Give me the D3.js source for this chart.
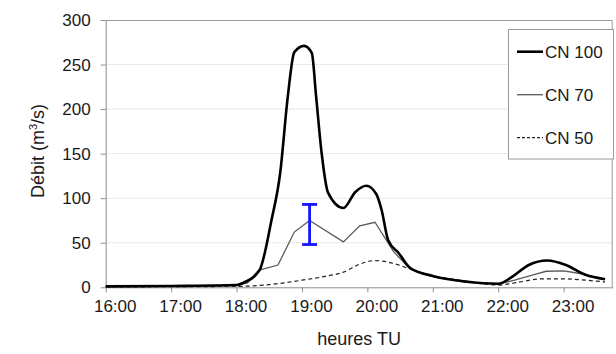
<!DOCTYPE html>
<html>
<head>
<meta charset="utf-8">
<script src="https://cdn.jsdelivr.net/npm/d3@7"></script>
<style>
    body { margin: 0; background: white; }
    text { font-family: "Liberation Sans", Arial, sans-serif; fill: #1a1a1a; }
</style>
</head>
<body>
<div id="chart"></div>
<script>
// hours (TU) and discharge values
const times100  = ["16:00","17:00","18:00","18:06","18:21","18:32","18:40","18:47","18:53","19:02","19:09","19:13","19:18","19:24","19:38","19:49","19:59","20:08","20:13","20:19","20:29","20:39","21:00","21:30","22:00","22:13","22:28","22:45","23:02","23:20","23:38"]
const values100 = [1, 1.5, 2.5, 5, 19, 75, 128, 214, 264, 271, 263, 214, 151, 106, 89, 107, 114, 105, 87, 53, 38, 22, 12.7, 6.5, 4, 12, 25, 30, 25, 14, 9]

const times70  = ["16:00","18:00","18:10","18:20","18:38","18:53","19:07","19:38","19:53","20:07","20:24","20:39","21:00","21:30","22:00","22:15","22:32","22:44","23:00","23:15","23:38"]
const values70 = [1, 2, 5, 19, 25, 62, 75, 51, 69, 73, 40, 21, 12, 5.5, 3.5, 8, 14, 18, 18.5, 15.5, 9]

const times50  = ["16:00","18:00","18:30","19:00","19:20","19:38","19:53","20:07","20:29","20:40","21:00","21:30","22:00","22:20","22:40","23:00","23:20","23:38"]
const values50 = [0.5, 1, 3, 8, 12, 17, 26, 30, 25, 20, 13, 7, 2.5, 6, 9.5, 9.5, 8, 6]

const errTime = "19:07"
const errLow  = 48
const errHigh = 93

const yTicks = [0, 50, 100, 150, 200, 250, 300]
const legendLabels = ["CN 100", "CN 70", "CN 50"]

// ----------------------------------------------------------

const width  = 616;
const height = 354;
const margin = {
    top:    20,
    bottom: 66.7,
    left:   105.7,
    right:  3.3
};
const innerW = width - margin.left - margin.right
const innerH = height - margin.top - margin.bottom

const parse = d3.timeParse("%H:%M")

const svg = d3.select("#chart")
    .append("svg")
    .attr("width",  width)
    .attr("height", height)

const elementGroup = svg.append("g")
    .attr("transform", `translate(${margin.left}, ${margin.top})`)

const x = d3.scaleTime().domain([parse("16:00"), parse("23:45")]).range([0, innerW])
const y = d3.scaleLinear().domain([0, 300]).range([innerH, 0])

// grid
elementGroup.selectAll(".grid")
    .data(yTicks.filter(d => d > 0 && d < 300))
    .join("line")
        .attr("x1", 0).attr("x2", innerW)
        .attr("y1", d => y(d)).attr("y2", d => y(d))
        .attr("stroke", "#cfcfcf")
        .attr("stroke-width", 1)
        .attr("stroke-dasharray", "1,1")

// plot border (top / right)
elementGroup.append("path")
    .attr("d", `M0,0.5H${innerW - 0.5}V${innerH}`)
    .attr("fill", "none")
    .attr("stroke", "#9a9a9a")

const xAxis = d3.axisBottom(x)
    .ticks(d3.timeHour.every(1))
    .tickFormat(d3.timeFormat("%H:%M"))
    .tickSize(5).tickPadding(8).tickSizeOuter(0)
const yAxis = d3.axisLeft(y)
    .tickValues(yTicks)
    .tickSize(5).tickPadding(10).tickSizeOuter(0)

const xAxisGroup = elementGroup.append("g")
    .attr("transform", `translate(0, ${innerH})`)
    .call(xAxis)
xAxisGroup.selectAll("text").attr("dx", 9)

const yAxisGroup = elementGroup.append("g").call(yAxis)

svg.selectAll(".domain, .tick line").attr("stroke", "#8c8c8c")
svg.selectAll(".tick text")
    .attr("font-size", 17)
    .attr("font-family", "Liberation Sans, Arial, sans-serif")
    .attr("fill", "#1a1a1a")

// series
const smooth = d3.line().x(d => x(d.t)).y(d => y(d.v)).curve(d3.curveMonotoneX)
const straight = d3.line().x(d => x(d.t)).y(d => y(d.v))
const toPoints = (ts, vs) => ts.map((t, i) => ({t: parse(t), v: vs[i]}))

elementGroup.append("path")
    .attr("d", smooth(toPoints(times50, values50)))
    .attr("fill", "none")
    .attr("stroke", "#222")
    .attr("stroke-width", 1.2)
    .attr("stroke-dasharray", "4,3")

elementGroup.append("path")
    .attr("d", straight(toPoints(times70, values70)))
    .attr("fill", "none")
    .attr("stroke", "#5a5a5a")
    .attr("stroke-width", 1.3)

elementGroup.append("path")
    .attr("d", smooth(toPoints(times100, values100)))
    .attr("fill", "none")
    .attr("stroke", "black")
    .attr("stroke-width", 2.6)

// error bar
const ex = x(parse(errTime))
const err = elementGroup.append("g")
    .attr("stroke", "#1414ff")
    .attr("stroke-width", 2.8)
err.append("line").attr("x1", ex).attr("x2", ex).attr("y1", y(errHigh)).attr("y2", y(errLow))
err.append("line").attr("x1", ex - 7.5).attr("x2", ex + 7.5).attr("y1", y(errHigh)).attr("y2", y(errHigh))
err.append("line").attr("x1", ex - 7.5).attr("x2", ex + 7.5).attr("y1", y(errLow)).attr("y2", y(errLow))

// legend
const legend = svg.append("g")
legend.append("rect")
    .attr("x", 508.5).attr("y", 29.5)
    .attr("width", 105).attr("height", 129.5)
    .attr("fill", "white")
    .attr("stroke", "#9a9a9a")

const legendStyle = [
    {w: 2.6, c: "black", dash: null},
    {w: 1.3, c: "#5a5a5a", dash: null},
    {w: 1.2, c: "#222", dash: "3,2"}
]
legend.selectAll(".item")
    .data(legendLabels)
    .join("g")
    .each(function(d, i) {
        const g = d3.select(this)
        const cy = 51.7 + i * 43
        g.append("line")
            .attr("x1", 517).attr("x2", 543)
            .attr("y1", cy).attr("y2", cy)
            .attr("stroke", legendStyle[i].c)
            .attr("stroke-width", legendStyle[i].w)
            .attr("stroke-dasharray", legendStyle[i].dash)
        g.append("text")
            .text(d)
            .attr("x", 545)
            .attr("y", cy + 6)
            .attr("font-size", 17)
    })

// axis titles
svg.append("text")
    .text("heures TU")
    .attr("x", margin.left + innerW / 2)
    .attr("y", 345)
    .attr("text-anchor", "middle")
    .attr("font-size", 18)

const yTitle = svg.append("text")
    .attr("transform", "translate(44, 151) rotate(-90)")
    .attr("text-anchor", "middle")
    .attr("font-size", 18)
yTitle.append("tspan").text("Débit (m")
yTitle.append("tspan").text("3").attr("font-size", 11).attr("dy", -7)
yTitle.append("tspan").text("/s)").attr("dy", 7)
</script>
</body>
</html>
